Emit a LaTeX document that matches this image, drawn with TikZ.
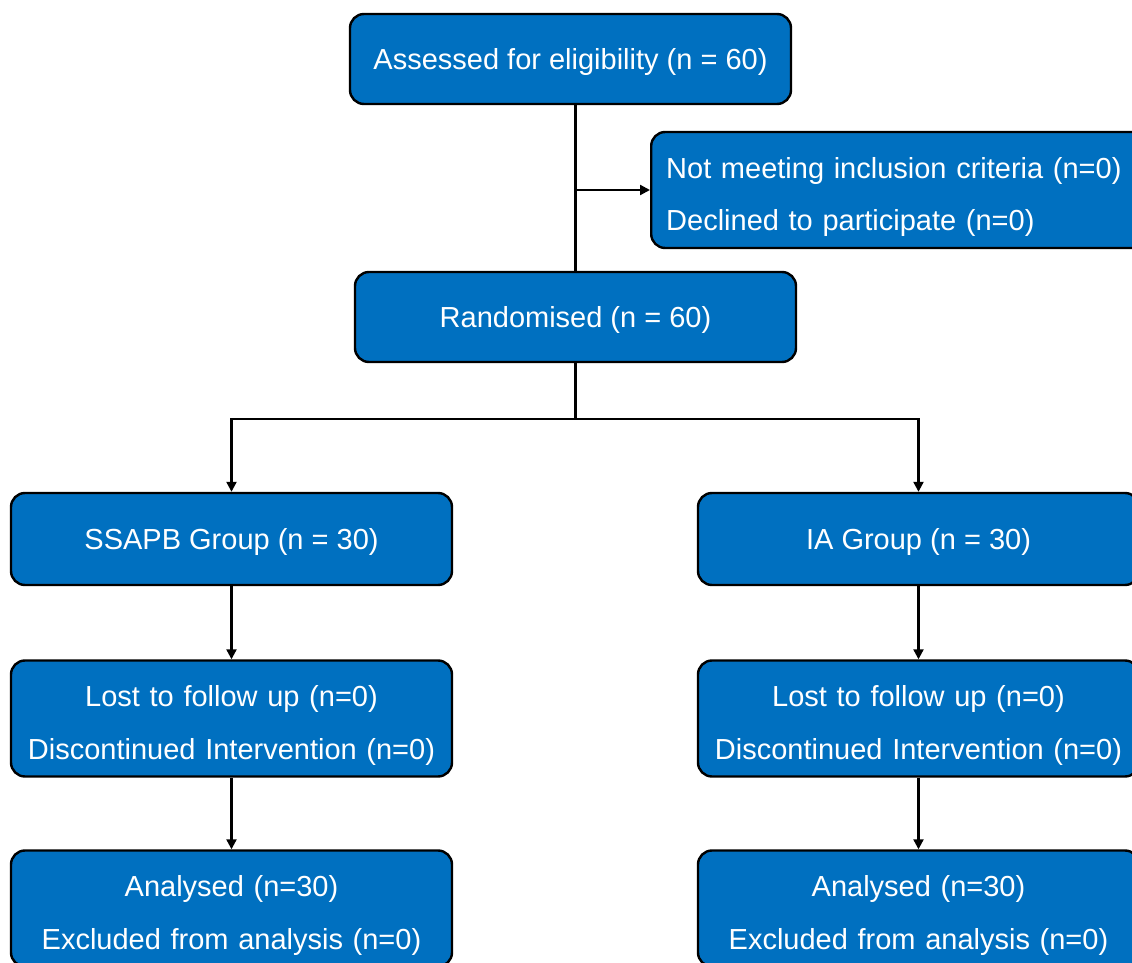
\documentclass[tikz,border=0pt]{standalone}
\usepackage{fontspec}
\setmainfont{Liberation Sans}
\usetikzlibrary{arrows.meta, positioning}
\definecolor{boxblue}{HTML}{0070C0}
\tikzset{
  stage/.style={draw=black, fill=boxblue, text=white, line width=1.2pt,
                rounded corners=7pt, minimum width=220.5pt, inner sep=0pt,
                align=center, font=\fontsize{14.5}{26.5}\selectfont,
                execute at begin node={\rule{0pt}{13.3pt}}},
  pair/.style={stage, minimum height=58pt, text width=220.5pt,
               execute at begin node={\rule{0pt}{18pt}}},
  flow/.style={-{Triangle[length=5pt, width=5pt]}, line width=1.1pt},
  link/.style={line width=1.1pt},
}

\begin{document}
\begin{tikzpicture}[x=0.5pt, y=-0.5pt]
    \useasboundingbox (0,0) rectangle (1132,963);
    \node[stage, minimum height=45pt] (elig) at (570.5,59) {Assessed for eligibility (n = 60)};
    \node[stage, anchor=west, align=left, text width=240pt, inner xsep=7.5pt,
          font=\fontsize{14.5}{26}\selectfont, execute at begin node={\rule{0pt}{18pt}},
          minimum height=58pt] (excl) at (650,190)
          {Not meeting inclusion criteria (n=0)\\Declined to participate (n=0)};
    \node[stage, minimum height=45pt] (rand) at (575.5,317) {Randomised (n = 60)};
    \node[stage, minimum height=46pt] (ssapb) at (231.5,539) {SSAPB Group (n = 30)};
    \node[stage, minimum height=46pt] (ia) at (918.5,539) {IA Group (n = 30)};
    \node[pair] (lostA) at (231.5,718.5) {Lost to follow up (n=0)\\Discontinued Intervention (n=0)};
    \node[pair] (lostB) at (918.5,718.5) {Lost to follow up (n=0)\\Discontinued Intervention (n=0)};
    \node[pair] (anaA) at (231.5,908.5) {Analysed (n=30)\\Excluded from analysis (n=0)};
    \node[pair] (anaB) at (918.5,908.5) {Analysed (n=30)\\Excluded from analysis (n=0)};
    \coordinate (split) at (575.5,419);
    % enrolment
    \draw[link] (rand.north |- elig.south) -- (rand.north);
    \draw[flow] (rand.north |- excl.west) -- (excl.west);
    % allocation
    \draw[link] (rand.south) -- (split);
    \draw[flow] (split) -| (ssapb.north);
    \draw[flow] (split) -| (ia.north);
    % follow up and analysis
    \draw[flow] (ssapb) -- (lostA);
    \draw[flow] (lostA) -- (anaA);
    \draw[flow] (ia) -- (lostB);
    \draw[flow] (lostB) -- (anaB);
  \end{tikzpicture}
\end{document}
